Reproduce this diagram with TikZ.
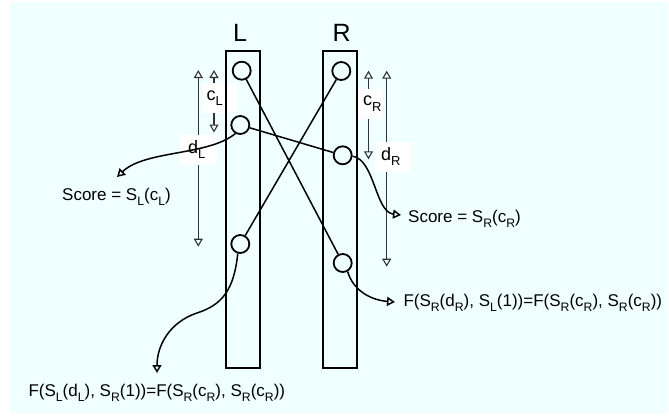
\documentclass[tikz,border=0pt]{standalone}
\usepackage{fontspec}
\usepackage{graphicx}
\setmainfont{Liberation Sans}
\usetikzlibrary{arrows.meta}
\definecolor{bgcyan}{RGB}{240,255,255}
\definecolor{measgray}{RGB}{50,50,50}
\newcommand{\lowsub}[1]{\raisebox{-0.3em}{\scalebox{0.72}{#1}}}
\begin{document}
\begin{tikzpicture}[x=1pt,y=1pt,
  txt/.style={inner sep=0pt, font=\fontsize{17}{20}\selectfont},
  head/.style={inner sep=0pt, font=\fontsize{25}{28}\selectfont},
  column/.style={draw, line width=1.8pt, minimum width=34pt, minimum height=317pt, inner sep=0pt},
  ball/.style={draw, circle, line width=1.8pt, minimum size=18pt, inner sep=0pt},
  link/.style={line width=1.5pt},
  measure/.style={draw=measgray, line width=1.1pt, {Triangle[open,length=8pt,width=9pt]}-{Triangle[open,length=8pt,width=9pt]}},
  lead/.style={line width=1.5pt, -{Triangle[open,length=8pt,width=9pt]}},
  lbl/.style={fill=white, inner ysep=0pt, minimum height=30pt, align=left, font=\fontsize{18}{20}\selectfont}]

\useasboundingbox (0,0) rectangle (669,-415);
\fill[white] (0,0) rectangle (669,-415);
\fill[bgcyan] (10,-2) rectangle (668,-413);

% measuring arrows and their labels
\coordinate (cLtop) at (214,-70);
\coordinate (cLbot) at (214,-132.5);
\coordinate (dLtop) at (198.3,-70);
\coordinate (dLbot) at (198.3,-246.7);
\coordinate (cRtop) at (368.5,-70.7);
\coordinate (cRbot) at (368.5,-159.3);
\coordinate (dRtop) at (386.7,-70.7);
\coordinate (dRbot) at (386.7,-266.7);

\draw[measure] (cLtop) -- (cLbot);
\node[lbl, inner xsep=3.5pt, text width=27pt] (cL) at (220,-98) {c\lowsub{L}};
\draw[measure] (dLtop) -- (dLbot);
\node[lbl, inner xsep=8pt, text width=21pt] (dL) at (198.5,-149.5) {d\lowsub{L}};
\draw[measure] (cRtop) -- (cRbot);
\node[lbl, inner xsep=6pt, text width=14pt] (cR) at (370,-103.5) {c\lowsub{R}};
\draw[measure] (dRtop) -- (dRbot);
\node[lbl, inner xsep=6pt, text width=24pt] (dR) at (393,-156.5) {d\lowsub{R}};

% columns
\node[column] (colL) at (243,-209.5) {};
\node[column] (colR) at (340,-209.5) {};
\node[head, anchor=base] (hL) at (240,-41.7) {L};
\node[head, anchor=base] (hR) at (341.7,-41.7) {R};

% circles
\node[ball] (lt) at (241.7,-70.7) {};
\node[ball] (lm) at (240.3,-125) {};
\node[ball] (lb) at (240.3,-244) {};
\node[ball] (rt) at (341.3,-71) {};
\node[ball] (rm) at (342.7,-155.3) {};
\node[ball] (rb) at (342.7,-263) {};

\draw[link] (lt) -- (rb);
\draw[link] (lm) -- (rm);
\draw[link] (rt) -- (lb);

% texts
\node[txt, anchor=base west] (sL) at (62,-200) {Score = S\lowsub{L}(c\lowsub{L})};
\node[txt, anchor=base west] (sR) at (408,-222.7) {Score = S\lowsub{R}(c\lowsub{R})};
\node[txt, anchor=base west] (fL) at (28.3,-396.7) {F(S\lowsub{L}(d\lowsub{L}), S\lowsub{R}(1))=F(S\lowsub{R}(c\lowsub{R}), S\lowsub{R}(c\lowsub{R}))};
\node[txt, anchor=base west] (fR) at (403.3,-306) {F(S\lowsub{R}(d\lowsub{R}), S\lowsub{L}(1))=F(S\lowsub{R}(c\lowsub{R}), S\lowsub{R}(c\lowsub{R}))};

% leader curves
\coordinate (tipSL) at (117,-177);
\coordinate (tipSR) at (401,-215);
\coordinate (tipFL) at (157,-373);
\coordinate (tipFR) at (395,-302);
\draw[lead] (lm.240) .. controls (208,-156) and (145,-150) .. (tipSL);
\draw[lead] (rm.-5) .. controls (375,-160) and (375,-212) .. (tipSR);
\draw[lead] (lb.255) .. controls (234,-290) and (222,-305) .. (197,-313) .. controls (170,-322) and (157,-345) .. (tipFL);
\draw[lead] (rb.-60) .. controls (353,-290) and (370,-300) .. (tipFR);
\end{tikzpicture}
\end{document}
